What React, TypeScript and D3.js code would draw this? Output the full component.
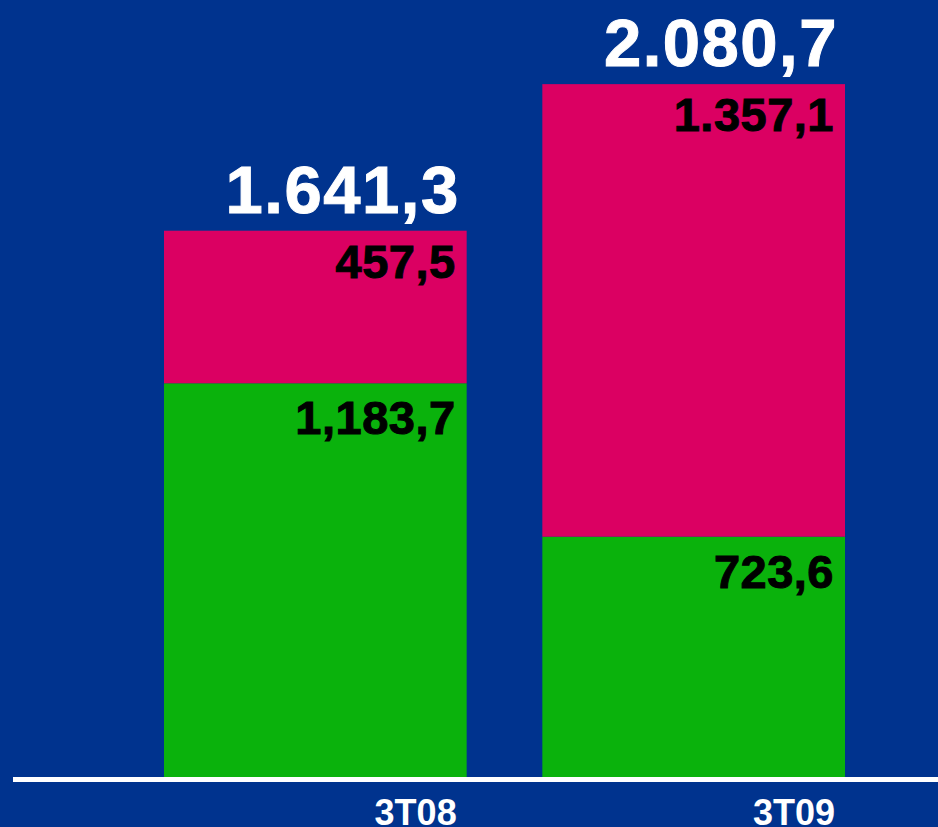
import React from "react";
import * as d3 from "d3";

const categories = ["3T08", "3T09"];
const greenValues = [1183.7, 723.6];
const pinkValues = [457.5, 1357.1];
const totals = [1641.3, 2080.7];
const greenLabels = ["1,183,7", "723,6"];
const pinkLabels = ["457,5", "1.357,1"];
const totalLabels = ["1.641,3", "2.080,7"];

const W = 938;
const H = 827;
const BG = "#00338E";
const PINK = "#DB0062";
const GREEN = "#0AB20C";
const FONT = "'Liberation Sans', Arial, sans-serif";

export default function App() {
  const baseY = 778;
  const x = d3.scaleBand<string>().domain(categories).range([164, 845]).paddingInner(0.2).paddingOuter(0);
  const y = d3.scaleLinear().domain([0, 2333]).range([baseY, 0]);
  const bw = x.bandwidth();

  return (
    <svg
      width={W}
      height={H}
      style={{ position: "absolute", left: 0, top: 0, display: "block" }}
    >
      <rect x={0} y={0} width={W} height={H} fill={BG} />
      {categories.map((c, i) => {
        const x0 = x(c)!;
        const right = x0 + bw;
        const gTop = y(greenValues[i]);
        const pTop = y(greenValues[i] + pinkValues[i]);
        return (
          <g key={c}>
            <rect x={x0} y={gTop} width={bw} height={baseY - gTop} fill={GREEN} />
            <rect x={x0} y={pTop} width={bw} height={gTop - pTop} fill={PINK} />
            <text
              x={right - 11}
              y={gTop + 51}
              textAnchor="end"
              fontFamily={FONT}
              fontWeight="bold"
              fontSize={47}
              letterSpacing={0.5}
              stroke="#000"
              strokeWidth={1}
              fill="#000"
            >
              {greenLabels[i]}
            </text>
            <text
              x={right - 11}
              y={pTop + 47}
              textAnchor="end"
              fontFamily={FONT}
              fontWeight="bold"
              fontSize={47}
              letterSpacing={0.5}
              stroke="#000"
              strokeWidth={1}
              fill="#000"
            >
              {pinkLabels[i]}
            </text>
            <text
              x={right - 7}
              y={y(totals[i]) - 18}
              textAnchor="end"
              fontFamily={FONT}
              fontWeight="bold"
              fontSize={67}
              letterSpacing={1.5}
              stroke="#fff"
              strokeWidth={1}
              fill="#fff"
            >
              {totalLabels[i]}
            </text>
            <text
              x={right - 10}
              y={825}
              textAnchor="end"
              fontFamily={FONT}
              fontWeight="bold"
              fontSize={36}
              fill="#fff"
            >
              {c}
            </text>
          </g>
        );
      })}
      <rect x={13} y={777} width={W - 13} height={5} fill="#fff" />
    </svg>
  );
}
